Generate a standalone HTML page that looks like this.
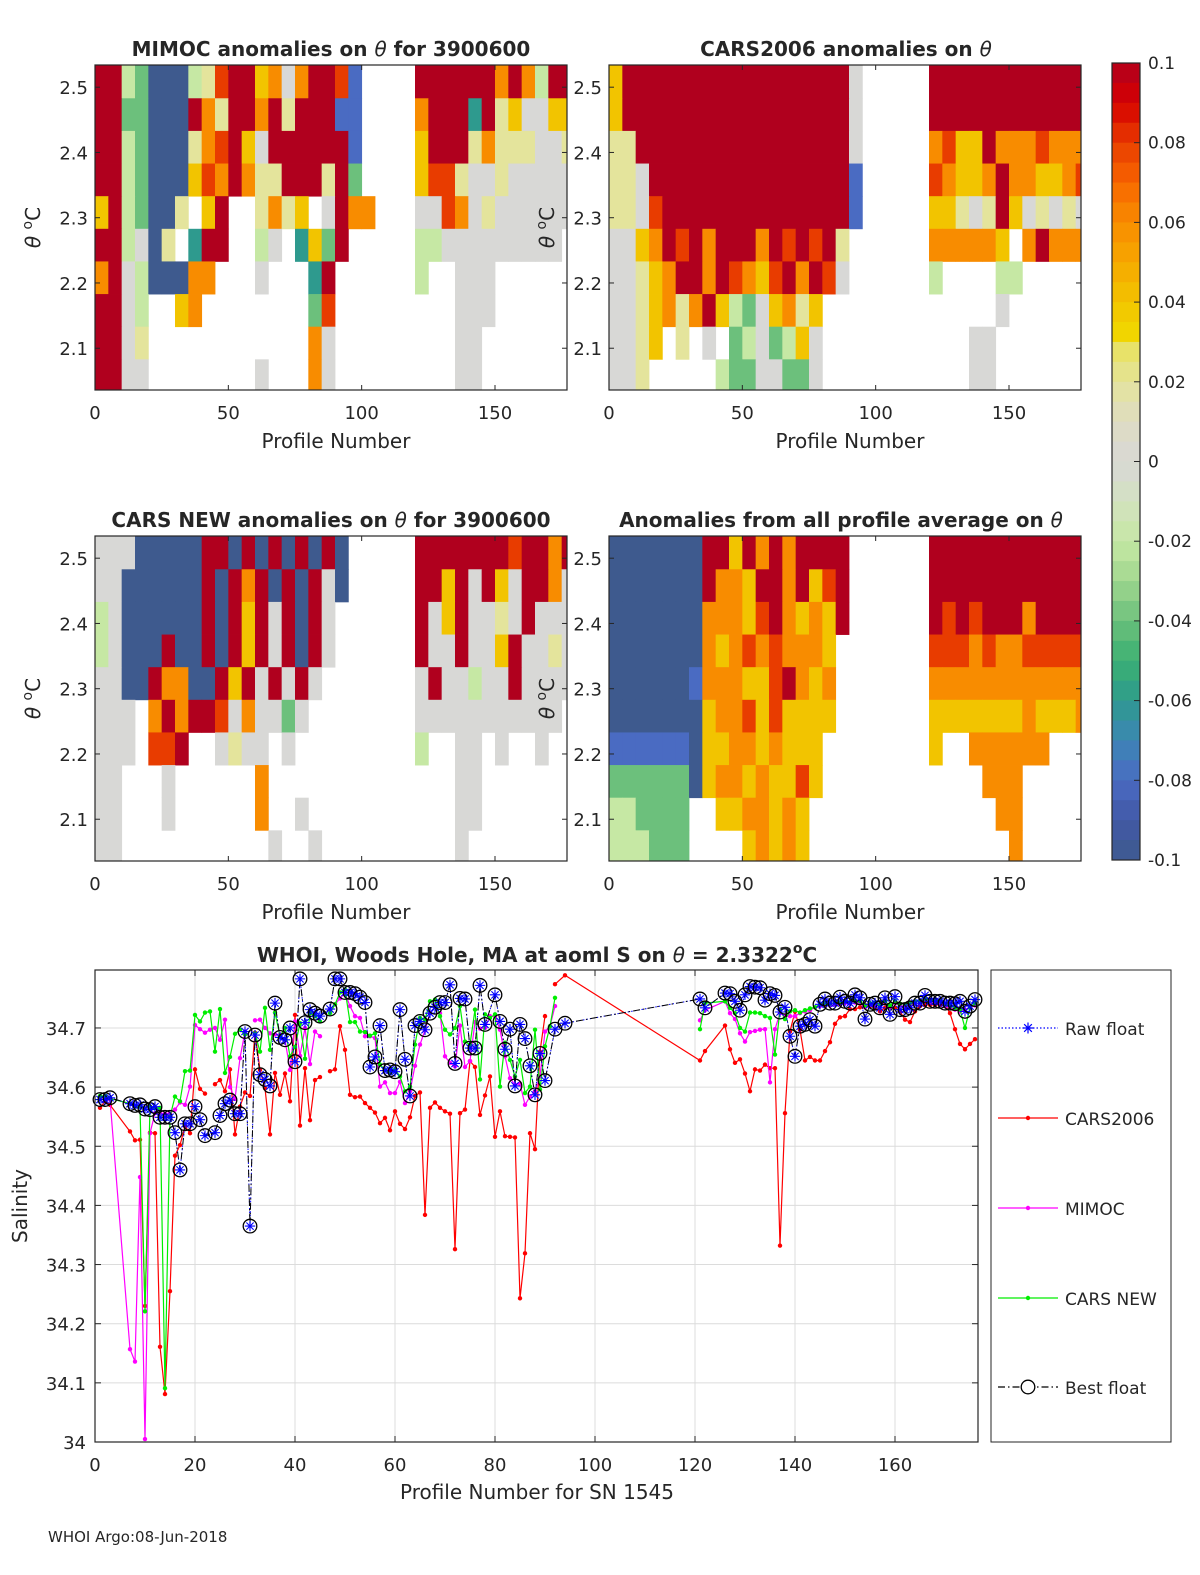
<!DOCTYPE html>
<html><head><meta charset="utf-8"><style>
html,body{margin:0;padding:0;background:#fff;overflow:hidden;width:1200px;height:1575px;}
svg{display:block;}
svg text{font-family:"DejaVu Sans","Liberation Sans",sans-serif;fill:#262626;}
</style></head><body>
<svg id="fig" width="1200" height="1575" viewBox="0 0 1200 1575" xmlns="http://www.w3.org/2000/svg">
<rect width="1200" height="1575" fill="#fff"/>
<g id="panels"></g>
<g id="bottom"></g>
<text x="48" y="1542" font-size="15">WHOI Argo:08-Jun-2018</text>
</svg>
<script>
// ---------- heatmap data (value codes: 0=-0.1 ... 5=0 ... A=0.1, '.'=no data) ----------
const thetaBands=[2.534,2.483,2.433,2.383,2.333,2.283,2.233,2.183,2.133,2.083,2.036];
const profPerCol=5;
const mimocLeft=["AA43000469AA7858AA91","AA33000A86AA8A6AAA11","AA43000689A75AAAAAA1","AA43000798A866AAA6A3","7A43006 7A..6867 5A88","AA4506 2AA..45.273A.","8A5400088...5...2A.","AA54..78........39.","AA56............85.","AA55........5...85."];
const mimocRight=["AAAAAA8A84AA","8AAA2A675577","7AAA68666556","799655655555","559856555555","44555555555.","4..555......","...555......","...55.......","...55......."];
const cars06Left=["7AAAAAAAAAAAAAAAAA5","7AAAAAAAAAAAAAAAAA5","66AAAAAAAAAAAAAAAA5","665AAAAAAAAAAAAAAA1","6659AAAAAAAAAAAAAA1","5578A9A8AAA8A9A9A6.","55678AA8A9879A8A95.","5567868A74357867...","5567.6.5.3453475...","556.....43355335..."];
const cars06Right=["AAAAAAAAAAAA","AAAAAAAAAAAA","8977A8889888","98778A887789","77656A756565","888887 8A888","4....44.....",".....5......","...55.......","...55......."];
const carsNewLeft=["55500000AA0A0A0A0A0","55000000A0A8A0A0A50","45000000A0A7A5A0A5.","45000A00A0A7A5A0A5.","5500A8800A7A5A5A5..","555.8A8AA9585535...","555.99A..5655.5....","55...5......8......","55...5......8..5...","55...........5..5.."];
const carsNewRight=["AAAAAAA9AA8A","AA7A5A75AA85","A57A5565A555","A55A557A5565","5A55455A5555","55555555555.","4..55.5..5..","...55.......","...55.......","...5........"];
const avgLeft=["0000000AA7A8A8AAAA.","0000000A887AA8A79A.","000000088879A8787A.","00000008789898887..","0000001888779A878..","00000007889797777..","1111110778878777...","3333330788787797...","443333..7788787....","444333....78787...."];
const avgRight=["AAAAAAAAAAAA","AAAAAAAAAAAA","A9A9AAA8AAAA","999898899999","888888888888","777777787778","7..888888...","....888.....",".....88.....","......8....."];
const heatXTicks=[0,50,100,150];
const heatYTicks=[2.1,2.2,2.3,2.4,2.5];
const cbarTicks=[0.1,0.08,0.06,0.04,0.02,0,-0.02,-0.04,-0.06,-0.08,-0.1];
const cbarLabels=["0.1","0.08","0.06","0.04","0.02","0","-0.02","-0.04","-0.06","-0.08","-0.1"];

// ---------- salinity chart data ----------
const profiles=[1,2,3,7,8,9,10,11,12,13,14,15,16,17,18,19,20,21,22,23,24,25,26,27,28,29,30,31,32,33,34,35,36,37,38,39,40,41,42,43,44,45,46,47,48,49,50,51,52,53,54,55,56,57,58,59,60,61,62,63,64,65,66,67,68,69,70,71,72,73,74,75,76,77,78,79,80,81,82,83,84,85,86,87,88,89,90,91,92,94,121,122,126,127,128,129,130,131,132,133,134,135,136,137,138,139,140,141,142,143,144,145,146,147,148,149,150,151,152,153,154,155,156,157,158,159,160,161,162,163,164,165,166,167,168,169,170,171,172,173,174,175,176];
const floatSal=[34.579,34.579,34.582,34.572,34.569,34.570,34.563,34.562,34.567,34.549,34.549,34.549,34.523,34.460,34.538,34.538,34.567,34.545,34.518,null,34.523,34.552,34.572,34.578,34.555,34.555,34.694,34.365,34.688,34.621,34.613,34.602,34.742,34.684,34.680,34.700,34.643,34.783,34.709,34.731,34.725,34.720,null,34.732,34.783,34.783,34.760,34.760,34.758,34.752,34.743,34.634,34.651,34.704,34.628,34.629,34.626,34.731,34.647,34.585,34.704,34.711,34.697,34.725,34.735,34.743,34.743,34.773,34.640,34.750,34.749,34.666,34.666,34.772,34.706,null,34.756,34.711,34.664,34.698,34.602,34.706,34.682,34.636,34.587,34.657,34.611,null,34.698,34.708,
34.749,34.734,34.759,34.758,34.745,34.730,34.756,34.770,34.769,34.768,34.747,34.758,34.755,34.727,34.735,34.686,34.652,34.703,34.706,34.714,34.703,34.740,34.749,34.742,34.742,34.752,34.745,34.742,34.756,34.751,34.715,34.740,34.742,34.734,34.751,34.723,34.753,34.731,34.731,34.734,34.742,34.742,34.755,34.745,34.745,34.745,34.742,34.742,34.741,34.745,34.728,34.737,34.748];
const cars2006Sal=[34.565,34.576,34.570,34.525,34.510,34.511,34.230,34.523,34.522,34.161,34.081,34.255,34.484,34.502,34.534,34.522,34.630,34.597,34.589,null,34.605,34.612,34.593,34.630,34.520,34.567,34.591,34.585,34.692,34.629,34.598,34.520,34.624,34.587,34.623,34.576,34.722,34.535,34.632,34.544,34.612,34.617,null,34.627,34.630,34.703,34.663,34.587,34.583,34.584,34.573,34.565,34.557,34.539,34.548,34.527,34.559,34.538,34.529,34.549,34.585,34.591,34.384,34.565,34.574,34.565,34.559,34.555,34.326,34.556,34.562,34.644,34.634,34.553,34.586,34.618,34.516,34.559,34.517,34.516,34.515,34.243,34.319,34.522,34.495,34.660,34.720,null,34.774,34.789,
34.645,34.661,34.704,34.664,34.641,34.647,34.623,34.593,34.630,34.628,34.638,34.632,34.632,34.332,34.556,34.694,34.728,34.697,34.645,34.651,34.645,34.645,34.661,34.676,34.707,34.718,34.720,34.732,34.732,34.735,34.739,34.737,34.734,34.728,34.734,34.737,34.734,34.728,34.714,34.710,34.728,34.737,34.739,34.739,34.739,34.739,34.739,34.725,34.698,34.673,34.664,34.673,34.681];
const mimocSal=[34.582,34.582,34.579,34.157,34.136,34.448,34.005,34.522,34.556,34.556,34.555,34.556,34.562,34.574,34.570,34.601,34.705,34.698,34.692,34.697,34.700,34.680,34.714,34.600,34.580,34.649,34.694,null,34.713,34.714,34.700,34.691,34.689,34.689,34.680,34.629,34.711,34.653,34.700,34.639,34.694,34.686,null,34.731,34.740,34.750,34.759,34.737,34.720,34.717,34.686,34.686,34.683,34.601,34.608,34.590,34.590,34.609,34.573,34.593,34.636,34.672,34.696,34.725,34.736,34.725,34.652,34.641,34.635,34.704,34.634,34.644,34.710,34.699,34.700,34.720,34.720,34.697,34.652,34.615,34.604,34.606,34.570,34.584,34.593,34.618,34.694,34.703,34.737,null,
34.713,34.730,34.745,34.725,34.715,34.691,34.677,34.693,34.695,34.697,34.698,34.608,34.698,34.725,34.720,34.720,34.720,34.725,34.728,34.730,34.735,34.737,34.739,34.738,34.740,34.740,34.742,34.741,34.743,34.742,34.735,34.739,34.740,34.737,34.742,34.735,34.743,34.738,34.737,34.739,34.742,34.742,34.746,34.744,34.744,34.743,34.737,34.734,34.731,34.728,34.731,34.734,34.738];
const carsNewSal=[34.585,34.585,34.581,34.572,34.567,34.567,34.221,34.567,34.565,34.565,34.091,34.550,34.584,34.576,34.627,34.628,34.722,34.711,34.726,34.728,34.660,34.732,34.624,34.651,34.690,34.697,34.689,null,34.691,34.660,34.734,34.663,34.726,34.686,34.700,34.652,34.668,34.708,34.648,34.725,34.720,34.711,null,34.725,34.740,34.760,34.765,34.710,34.710,34.694,34.693,34.687,34.691,34.638,34.629,34.624,34.630,34.618,34.593,34.601,34.672,34.717,34.714,34.745,34.748,34.720,34.697,34.689,34.700,34.737,34.677,34.672,34.731,34.613,34.723,34.717,34.723,34.601,34.675,34.646,34.618,34.646,34.590,34.601,34.697,34.596,34.669,34.703,34.751,null,
34.698,34.742,34.745,34.734,34.725,34.700,34.694,34.726,34.726,34.725,34.720,34.717,34.655,34.731,34.715,34.728,34.730,34.726,34.730,34.733,34.735,34.740,34.742,34.741,34.743,34.743,34.745,34.744,34.746,34.745,34.738,34.742,34.743,34.740,34.745,34.738,34.746,34.741,34.740,34.742,34.745,34.745,34.749,34.747,34.747,34.746,34.740,34.737,34.734,34.731,34.700,34.734,34.742];
const salXTicks=[0,20,40,60,80,100,120,140,160];
const salYTicks=[34,34.1,34.2,34.3,34.4,34.5,34.6,34.7];
const salYLabels=["34","34.1","34.2","34.3","34.4","34.5","34.6","34.7"];

const NS="http://www.w3.org/2000/svg";
function mk(tag,attrs,parent){const e=document.createElementNS(NS,tag);for(const k in attrs)e.setAttribute(k,attrs[k]);if(parent)parent.appendChild(e);return e;}

const cmStops=[[-0.1,"#3e5a8e"],[-0.09,"#4258a6"],[-0.08,"#4a6bc2"],[-0.07,"#3d86b4"],[-0.06,"#2e9a8e"],[-0.05,"#3bb072"],[-0.04,"#6cc07c"],[-0.03,"#a0d68e"],[-0.02,"#c6e8a4"],[-0.01,"#d3e1c0"],[0,"#d8d8d6"],[0.01,"#dedcc2"],[0.02,"#e4e49c"],[0.028,"#e8e266"],[0.03,"#f0da00"],[0.04,"#f2c400"],[0.05,"#f6a800"],[0.06,"#f88c00"],[0.07,"#f86600"],[0.08,"#e83c00"],[0.09,"#d60000"],[0.1,"#b0001e"]];
function hex2rgb(h){return [parseInt(h.substr(1,2),16),parseInt(h.substr(3,2),16),parseInt(h.substr(5,2),16)];}
function cmap(v){v=Math.max(-0.1,Math.min(0.1,v));for(let i=0;i<cmStops.length-1;i++){const a=cmStops[i],b=cmStops[i+1];if(v<=b[0]){const t=(v-a[0])/(b[0]-a[0]||1);const A=hex2rgb(a[1]),B=hex2rgb(b[1]);return "rgb("+A.map((x,j)=>Math.round(x+(B[j]-x)*t)).join(",")+")";}}return cmStops[cmStops.length-1][1];}
function codeVal(c){if(c==="A")return 0.1;const d=parseInt(c,10);return isNaN(d)?null:-0.1+d*0.02;}

const panels=document.getElementById("panels");
function heatPanel(name,x0,y0,left,right,title,titleX){
  const W=472,H=325,pMax=177;
  const xs=p=>x0+p*W/pMax;
  const ys=t=>y0+(2.534-t)*H/(2.534-2.036);
  const g=mk("g",{},panels);
  
  
  for(let r=0;r<left.length;r++){
    const row=left[r].replace(/ /g,".").padEnd(24,".").slice(0,24)+right[r].replace(/ /g,".");
    for(let c=0;c<row.length;c++){
      const v=codeVal(row[c]);if(v===null)continue;
      const x1=xs(c*profPerCol),x2=Math.min(xs((c+1)*profPerCol),x0+W);
      const cell=mk("rect",{x:x1,y:ys(thetaBands[r]),width:x2-x1+0.4,height:ys(thetaBands[r+1])-ys(thetaBands[r])+0.4,fill:cmap(v)},g);
      
      
    }
  }
  const box=mk("rect",{x:x0,y:y0,width:W,height:H,fill:"none",stroke:"#262626","stroke-width":1.2},g);
  
  
  heatXTicks.forEach(t=>{const x=xs(t);mk("line",{x1:x,y1:y0+H,x2:x,y2:y0+H-5,stroke:"#262626"},g);mk("line",{x1:x,y1:y0,x2:x,y2:y0+5,stroke:"#262626"},g);
    const tl=mk("text",{x:x,y:y0+H+29,"font-size":18,"text-anchor":"middle"},g);tl.textContent=String(t);
    
    });
  heatYTicks.forEach(t=>{const y=ys(t);mk("line",{x1:x0,y1:y,x2:x0+5,y2:y,stroke:"#262626"},g);mk("line",{x1:x0+W,y1:y,x2:x0+W-5,y2:y,stroke:"#262626"},g);
    const tl=mk("text",{x:x0-7,y:y+7,"font-size":18,"text-anchor":"end"},g);tl.textContent=t.toFixed(1);
    
    });
  const xl=mk("text",{x:x0+W/2+5,y:y0+H+58,"font-size":20,"text-anchor":"middle"},g);xl.textContent="Profile Number";
  
  
  const yl=mk("text",{x:0,y:0,"font-size":20,"text-anchor":"middle",transform:"translate("+(x0-55)+","+(y0+H/2)+") rotate(-90)"},g);
  yl.innerHTML='<tspan font-style="italic">θ</tspan> <tspan font-size="14" dy="-8">o</tspan><tspan dy="8">C</tspan>';
  
  
  const tt=mk("text",{x:titleX,y:y0-9,"font-size":20,"font-weight":"bold","text-anchor":"middle",fill:"#000"},g);
  tt.innerHTML=title;
  
  
}
heatPanel("mimoc-heatmap",95,65,mimocLeft,mimocRight,'MIMOC anomalies on <tspan font-style="italic" font-weight="normal">θ</tspan>  for 3900600',331);
heatPanel("cars2006-heatmap",609,65,cars06Left,cars06Right,'CARS2006 anomalies on <tspan font-style="italic" font-weight="normal">θ</tspan>',846);
heatPanel("carsnew-heatmap",95,536,carsNewLeft,carsNewRight,'CARS NEW anomalies on <tspan font-style="italic" font-weight="normal">θ</tspan> for 3900600',331);
heatPanel("average-heatmap",609,536,avgLeft,avgRight,'Anomalies from all profile average on <tspan font-style="italic" font-weight="normal">θ</tspan>',841);

(function(){
  const g=mk("g",{},panels);
  
  
  const x=1112,w=28,top=63,bot=860,n=40;
  const cy=v=>top+(0.1-v)*(bot-top)/0.2;
  for(let i=0;i<n;i++){const v0=0.1-i*0.005;const s=mk("rect",{x:x,y:cy(v0),width:w,height:cy(v0-0.005)-cy(v0)+0.5,fill:cmap(v0-0.0025)},g);
    
    }
  mk("rect",{x:x,y:top,width:w,height:bot-top,fill:"none",stroke:"#262626","stroke-width":1.2},g);
  cbarTicks.forEach((t,i)=>{const y=cy(t);mk("line",{x1:x+w-6,y1:y,x2:x+w,y2:y,stroke:"#262626"},g);
    const tl=mk("text",{x:x+36,y:y+6,"font-size":17},g);tl.textContent=cbarLabels[i];
    
    });
})();

(function(){
  const g=document.getElementById("bottom");
  const X0=95,X1=978,Y0=970,Y1=1442,xmax=176.6,ymin=34,ymax=34.798;
  const xs=p=>X0+p*(X1-X0)/xmax;
  const ys=s=>Y1-(s-ymin)*(Y1-Y0)/(ymax-ymin);
  salXTicks.forEach(t=>{const x=xs(t);mk("line",{x1:x,y1:Y0,x2:x,y2:Y1,stroke:"#dcdcdc"},g);
    mk("line",{x1:x,y1:Y1,x2:x,y2:Y1-6,stroke:"#262626"},g);mk("line",{x1:x,y1:Y0,x2:x,y2:Y0+6,stroke:"#262626"},g);
    const tl=mk("text",{x:x,y:Y1+29,"font-size":18,"text-anchor":"middle"},g);tl.textContent=String(t);
    
    });
  salYTicks.forEach((t,i)=>{const y=ys(t);mk("line",{x1:X0,y1:y,x2:X1,y2:y,stroke:"#dcdcdc"},g);
    mk("line",{x1:X0,y1:y,x2:X0+6,y2:y,stroke:"#262626"},g);mk("line",{x1:X1,y1:y,x2:X1-6,y2:y,stroke:"#262626"},g);
    const tl=mk("text",{x:X0-9,y:y+7,"font-size":18,"text-anchor":"end"},g);tl.textContent=salYLabels[i];
    
    });
  function pathOf(vals){let d="",pen=false;profiles.forEach((p,i)=>{const v=vals[i];if(v===null||v===undefined){return;}d+=(pen?"L":"M")+xs(p).toFixed(1)+","+ys(v).toFixed(1);pen=true;});return d;}
  function pathBreak(vals){let d="",pen=false;profiles.forEach((p,i)=>{const v=vals[i];if(v===null){pen=false;return;}d+=(pen?"L":"M")+xs(p).toFixed(1)+","+ys(v).toFixed(1);pen=true;});return d;}
  function series(name,vals,color,breaks){
    const sg=mk("g",{},g);
    
    
    mk("path",{d:breaks?pathBreak(vals):pathOf(vals),fill:"none",stroke:color,"stroke-width":1.2},sg);
    profiles.forEach((p,i)=>{const v=vals[i];if(v===null)return;const c=mk("circle",{cx:xs(p),cy:ys(v),r:2.2,fill:color},sg);
      
      });
  }
  series("cars2006-series",cars2006Sal,"#ff0000",true);
  series("mimoc-series",mimocSal,"#ff00ff",true);
  series("carsnew-series",carsNewSal,"#00ee00",true);
  const fg=mk("g",{},g);
  
  
  const fd=pathOf(floatSal);
  mk("path",{d:fd,fill:"none",stroke:"#0000ff","stroke-width":1,"stroke-dasharray":"1.5,2"},fg);
  mk("path",{d:fd,fill:"none",stroke:"#000","stroke-width":1,"stroke-dasharray":"7,3,1.5,3"},fg);
  profiles.forEach((p,i)=>{const v=floatSal[i];if(v===null)return;const cx=xs(p),cy=ys(v);
    const m=mk("g",{},fg);
    
    
    mk("circle",{cx:cx,cy:cy,r:6.8,fill:"none",stroke:"#000","stroke-width":1.3},m);
    const r=5.2;let d="M"+(cx-r)+","+cy+"h"+(2*r)+"M"+cx+","+(cy-r)+"v"+(2*r)+"M"+(cx-r*0.7)+","+(cy-r*0.7)+"l"+(1.4*r)+","+(1.4*r)+"M"+(cx-r*0.7)+","+(cy+r*0.7)+"l"+(1.4*r)+","+(-1.4*r);
    mk("path",{d:d,stroke:"#0000ff","stroke-width":1.1,fill:"none"},m);});
  const bx=mk("rect",{x:X0,y:Y0,width:X1-X0,height:Y1-Y0,fill:"none",stroke:"#262626","stroke-width":1.2},g);
  
  
  const xl=mk("text",{x:537,y:1499,"font-size":20,"text-anchor":"middle"},g);xl.textContent="Profile Number for SN 1545";
  
  
  const yl=mk("text",{x:0,y:0,"font-size":20,"text-anchor":"middle",transform:"translate(27,1206) rotate(-90)"},g);yl.textContent="Salinity";
  
  
  const tt=mk("text",{x:537,y:962,"font-size":20,"font-weight":"bold","text-anchor":"middle",fill:"#000"},g);
  tt.innerHTML='WHOI, Woods Hole, MA at aoml S on <tspan font-style="italic" font-weight="normal">θ</tspan> = 2.3322<tspan font-size="14" dy="-9">o</tspan><tspan dy="9">C</tspan>';
  
  
  const lg=mk("g",{},g);
  
  
  mk("rect",{x:991,y:970,width:180,height:472,fill:"#fff",stroke:"#262626","stroke-width":1},lg);
  const items=[["Raw float","#0000ff","1.5,2","star",1028],["CARS2006","#ff0000","","dot",1118],["MIMOC","#ff00ff","","dot",1208],["CARS NEW","#00ee00","","dot",1298],["Best float","#000","7,3,1.5,3","circle",1387]];
  items.forEach(it=>{const e=mk("g",{},lg);
    
    
    const y=it[4];mk("line",{x1:998,y1:y,x2:1058,y2:y,stroke:it[1],"stroke-width":1.2,"stroke-dasharray":it[2]},e);
    if(it[3]==="dot")mk("circle",{cx:1028,cy:y,r:2.2,fill:it[1]},e);
    if(it[3]==="circle")mk("circle",{cx:1028,cy:y,r:6.8,fill:"#fff",stroke:"#000","stroke-width":1.3},e);
    if(it[3]==="star"){const r=5.5;mk("path",{d:"M"+(1028-r)+","+y+"h"+(2*r)+"M1028,"+(y-r)+"v"+(2*r)+"M"+(1028-r*0.7)+","+(y-r*0.7)+"l"+(1.4*r)+","+(1.4*r)+"M"+(1028-r*0.7)+","+(y+r*0.7)+"l"+(1.4*r)+","+(-1.4*r),stroke:"#0000ff","stroke-width":1.2},e);}
    const t=mk("text",{x:1065,y:y+7,"font-size":17},e);t.textContent=it[0];});
})();
</script>
</body></html>
